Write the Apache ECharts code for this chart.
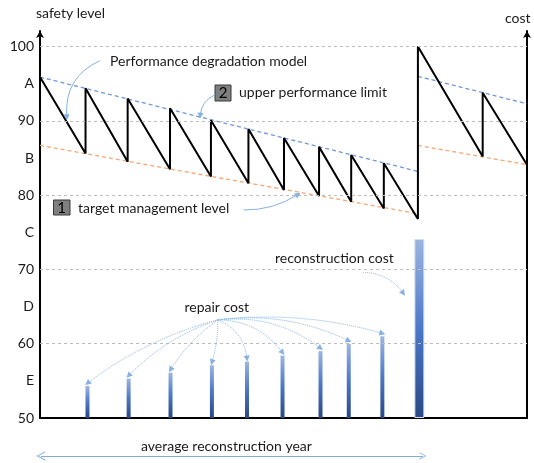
<!DOCTYPE html>
<html><head><meta charset="utf-8">
<script src="https://cdn.jsdelivr.net/npm/echarts@6/dist/echarts.min.js"></script>
<style>html,body{margin:0;padding:0;background:#fff}#c{width:534px;height:463px}</style>
</head><body><div id="c"></div>
<script>
// ---- data ----
const safetyTicks = [50, 55, 60, 65, 70, 75, 80, 85, 90, 95, 100];
const safetyTickLabels = ['50', 'E', '60', 'D', '70', 'C', '80', 'B', '90', 'A', '100'];
const gridLevels = [60, 70, 80, 90, 100];

const degradeYears  = [0, 9.35, 9.35, 18.0, 18.0, 26.7, 26.7, 35.1, 35.1, 42.8, 42.8, 50.1, 50.1, 57.3, 57.3, 63.9, 63.9, 70.6, 70.6, 77.6, 77.6, 90.9, 90.9, 100];
const degradeLevels = [95.9, 85.6, 94.4, 84.5, 93.0, 83.5, 91.7, 82.5, 90.1, 81.6, 88.9, 80.7, 87.7, 79.9, 86.5, 79.1, 85.4, 78.2, 84.3, 76.8, 100, 85.2, 93.8, 84.1];

const upperYearsA = [0, 77.6];   const upperLevelsA = [95.9, 83.2];
const upperYearsB = [77.6, 100]; const upperLevelsB = [96.0, 92.3];
const targetYearsA = [0, 77.6];  const targetLevelsA = [86.7, 77.5];
const targetYearsB = [77.6, 100];const targetLevelsB = [86.7, 84.1];

const repairYears = [9.75, 18.2, 26.8, 35.3, 42.5, 49.8, 57.6, 63.4, 70.3];
const repairCost  = [4.3, 5.3, 6.1, 7.1, 7.6, 8.4, 9.0, 10.0, 11.0];
const reconYears = [77.9];
const reconCost  = [24.1];

// annotation arrows (data coordinates: year, safety level)
const noteArrowFrom = [[12.3, 98.1], [35.9, 93.5], [41.8, 78.0], [66.3, 69.6]];
const noteArrowTo   = [[5.5, 90.5], [32.9, 90.7], [53.0, 80.1], [74.6, 66.8]];
const repairArrowOrigin = [36.5, 63.2];
const spanYears = [0.2, 78.6];
const spanLevel = 44.9;

// ---- styles ----
const noteBend = [-0.35, -0.3, -0.15, 0.25];
const repairBend = [-0.1, -0.12, -0.1, 0.08, 0.3, 0.25, 0.2, 0.15, 0.1];
const FONT = 'Lato, "Open Sans", sans-serif';
const yMin = 50, yMax = 102.1;
const costMax = yMax - yMin;

const zip = (xs, ys) => xs.map((x, i) => [x, ys[i]]);
const barGrad = {type: 'linear', x: 0, y: 0, x2: 0, y2: 1,
  colorStops: [{offset: 0, color: '#9DB5E1'}, {offset: 0.5, color: '#4B78C7'}, {offset: 1, color: '#2A4884'}]};

const chart = echarts.init(document.getElementById('c'), null, {renderer: 'canvas'});

const noteData = noteArrowFrom.map((f, i) => ({coords: [f, noteArrowTo[i]], lineStyle: {curveness: noteBend[i]}}));
const repairArrowData = repairYears.map((x, i) => ({
  coords: [repairArrowOrigin, [x, yMin + repairCost[i] + 0.4]],
  lineStyle: {curveness: repairBend[i]}
}));

const txt = (x, y, t) => ({type: 'text', style: {x: x, y: y, text: t, font: '14px ' + FONT, fill: '#1a1a1a', textVerticalAlign: 'middle'}});

chart.setOption({
  animation: false,
  backgroundColor: '#fff',
  grid: {left: 40, right: 7, top: 31, bottom: 45, containLabel: false},
  xAxis: [
    {type: 'value', min: 0, max: 100, axisLine: {onZero: false, lineStyle: {color: '#000', width: 2}},
     axisTick: {show: false}, axisLabel: {show: false}, splitLine: {show: false}},
    {type: 'value', min: 0, max: 100, show: false},
    {type: 'value', min: 0, max: 100, show: false}
  ],
  yAxis: [
    {type: 'value', min: yMin, max: yMax, interval: 5, position: 'left',
     axisLine: {show: true, onZero: false, lineStyle: {color: '#000', width: 2}, symbol: ['none', 'arrow'], symbolSize: [6, 7]},
     axisTick: {show: false}, splitLine: {show: false},
     axisLabel: {color: '#1a1a1a', fontSize: 14, fontFamily: FONT, margin: 6,
       formatter: v => { const i = safetyTicks.indexOf(Math.round(v * 100) / 100); return i >= 0 ? safetyTickLabels[i] : ''; }}},
    {type: 'value', min: 0, max: costMax, position: 'right',
     axisLine: {show: true, onZero: false, lineStyle: {color: '#000', width: 2}, symbol: ['none', 'arrow'], symbolSize: [6, 7]},
     axisTick: {show: false}, axisLabel: {show: false}, splitLine: {show: false}}
  ],
  series: [
    {type: 'line', name: 'grid', data: [], xAxisIndex: 0, yAxisIndex: 0, z: 1, silent: true,
     markLine: {silent: true, symbol: ['none', 'none'], label: {show: false},
       lineStyle: {color: '#BDBDBD', type: [3, 3], width: 1},
       data: gridLevels.map(v => ({yAxis: v}))}},
    {type: 'line', name: 'upper performance limit', data: zip(upperYearsA, upperLevelsA), symbol: 'none', z: 2,
     lineStyle: {color: '#6F97DA', width: 1.3, type: [4, 3]}},
    {type: 'line', name: 'upper performance limit 2', data: zip(upperYearsB, upperLevelsB), symbol: 'none', z: 2,
     lineStyle: {color: '#6F97DA', width: 1.3, type: [4, 3]}},
    {type: 'line', name: 'target management level', data: zip(targetYearsA, targetLevelsA), symbol: 'none', z: 2,
     lineStyle: {color: '#F5A775', width: 1.3, type: [4, 3]}},
    {type: 'line', name: 'target management level 2', data: zip(targetYearsB, targetLevelsB), symbol: 'none', z: 2,
     lineStyle: {color: '#F5A775', width: 1.3, type: [4, 3]}},
    {type: 'line', name: 'Performance degradation model', data: zip(degradeYears, degradeLevels), symbol: 'none', z: 4,
     lineStyle: {color: '#000', width: 2}},
    {type: 'bar', name: 'repair cost', xAxisIndex: 1, yAxisIndex: 1, barWidth: 4, z: 3,
     data: zip(repairYears, repairCost), itemStyle: {color: barGrad}},
    {type: 'bar', name: 'reconstruction cost', xAxisIndex: 2, yAxisIndex: 1, barWidth: 10, z: 3,
     data: zip(reconYears, reconCost), itemStyle: {color: barGrad, borderColor: '#D3DFF2', borderWidth: 1}},
    {type: 'lines', coordinateSystem: 'cartesian2d', xAxisIndex: 0, yAxisIndex: 0, z: 5, clip: false,
     symbol: ['none', 'triangle'], symbolSize: 6,
     lineStyle: {color: '#86B2E2', width: 1, opacity: 1}, data: noteData.slice(0, 3)},
    {type: 'lines', coordinateSystem: 'cartesian2d', xAxisIndex: 0, yAxisIndex: 0, z: 5, clip: false,
     symbol: ['none', 'triangle'], symbolSize: 6,
     lineStyle: {color: '#86B2E2', width: 1, type: 'dotted', opacity: 1}, data: noteData.slice(3).concat(repairArrowData)},
    {type: 'lines', coordinateSystem: 'cartesian2d', xAxisIndex: 0, yAxisIndex: 0, z: 5, clip: false,
     symbol: ['path://M0,10L5,0L10,10L9,10.6L5,2.2L1,10.6Z', 'path://M0,10L5,0L10,10L9,10.6L5,2.2L1,10.6Z'], symbolSize: [9, 7],
     lineStyle: {color: '#7FAADB', width: 1, opacity: 1},
     data: [{coords: [[spanYears[0], spanLevel], [spanYears[1], spanLevel]]}]}
  ],
  graphic: [
    txt(36, 13, 'safety level'),
    txt(505, 18, 'cost'),
    txt(110, 61, 'Performance degradation model'),
    {type: 'rect', shape: {x: 215, y: 85, width: 16, height: 16}, style: {fill: '#7F7F7F', stroke: '#3A3A3A', lineWidth: 1}},
    {type: 'text', style: {x: 223, y: 93.5, text: '2', font: '15px ' + FONT, fill: '#000', textAlign: 'center', textVerticalAlign: 'middle'}},
    txt(239, 92.5, 'upper performance limit'),
    {type: 'rect', shape: {x: 53.5, y: 200, width: 16.5, height: 15}, style: {fill: '#7F7F7F', stroke: '#3A3A3A', lineWidth: 1}},
    {type: 'text', style: {x: 61.7, y: 208, text: '1', font: '15px ' + FONT, fill: '#000', textAlign: 'center', textVerticalAlign: 'middle'}},
    txt(78, 208, 'target management level'),
    txt(275, 258, 'reconstruction cost'),
    txt(184.5, 307, 'repair cost'),
    txt(141, 446, 'average reconstruction year')
  ]
});
</script>
</body></html>
